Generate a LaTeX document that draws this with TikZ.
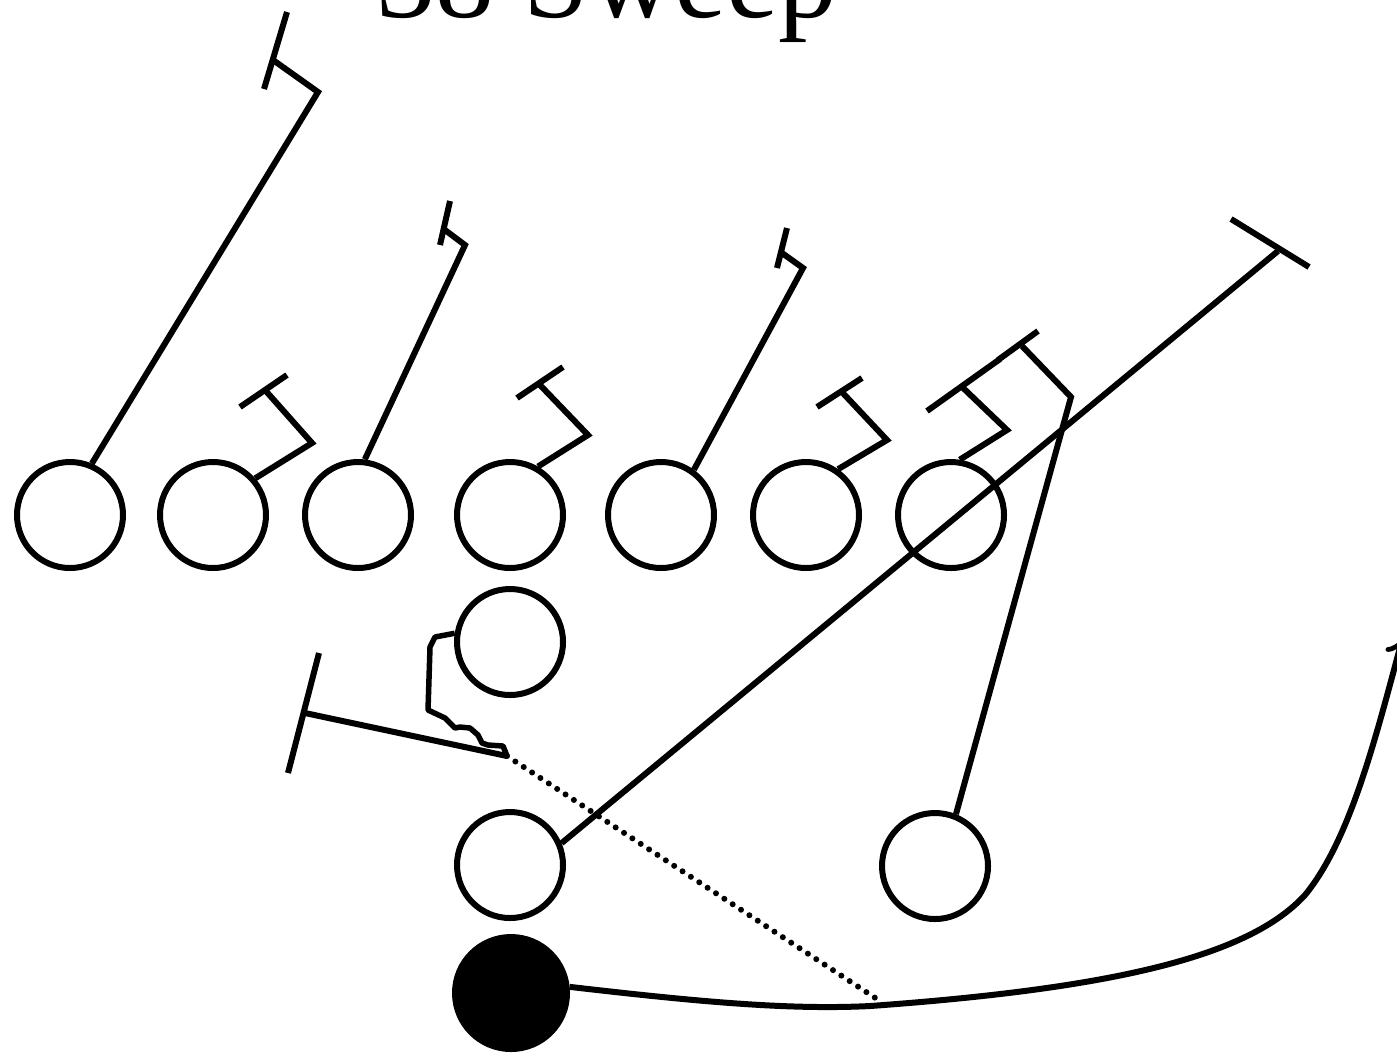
\documentclass[tikz,border=0pt]{standalone}
\usepackage{fontspec}
\setmainfont{Liberation Serif}
\usetikzlibrary{positioning}

\begin{document}
\begin{tikzpicture}[
        x=0.1mm, y=-0.1mm,
        player/.style={draw, circle, line width=0.6mm, minimum size=10.6mm, inner sep=0pt},
        carrier/.style={draw, fill=black, circle, line width=0.6mm, minimum size=11.2mm, inner sep=0pt},
        route/.style={line width=0.6mm, line join=miter},
        pitch/.style={line width=0.6mm, dash pattern=on 0pt off 1mm, line cap=round}
    ]
        \useasboundingbox (0,0) rectangle (1397,1055);

        \node[anchor=base west, inner sep=0pt, font=\fontsize{33.5pt}{36pt}\selectfont] (title) at (376,17) {38 Sweep};

        % the line
        \node[player] (le) at (70,515) {};
        \node[player] (lt) at (213,515) {};
        \node[player] (lg) at (358,515) {};
        \node[player] (c) at (510,515) {};
        \node[player] (rg) at (661,515) {};
        \node[player] (rt) at (806,515) {};
        \node[player] (te) at (951,515) {};

        % backs
        \node[player] (qb) at (510,642) {};
        \node[player] (fb) at (510,865) {};
        \node[player] (hb) at (935,866) {};
        \node[carrier] (tb) at (511,993) {};

        \coordinate (qbturn) at (507,756);
        \coordinate (pitchend) at (880,1001);

        % blocks
        \draw[route] (le.67) -- (318,92) -- (273,60);
        \draw[route] (287,12) -- (264,89);
        \draw[route] (lt.41) -- (312,443) -- (265,390);
        \draw[route] (240,407) -- (287,375);
        \draw[route] (lg.83) -- (465,245) -- (445,230);
        \draw[route] (450,201) -- (440,245);
        \draw[route] (c.60) -- (588,435) -- (540,385);
        \draw[route] (517,398) -- (563,367);
        \draw[route] (rg.54) -- (803,268) -- (782,253);
        \draw[route] (787,228) -- (777,268);
        \draw[route] (rt.55) -- (887,440) -- (840,390);
        \draw[route] (817,407) -- (862,378);
        \draw[route] (te.81) -- (1007,430) -- (960,385);
        \draw[route] (927,411) -- (1000,359);
        \draw[route] (hb.68) -- (1071,397) -- (1022,346);
        \draw[route] (998,360) -- (1038,331);
        \draw[route] (fb.23) -- (1278,251);
        \draw[route] (1231,219) -- (1309,267);

        % quarterback: reverse pivot, pitch, then block
        \draw[line width=0.55mm, line join=round] (qb.171) -- (435,637) -- (430,647) -- (428,710) -- (445,718) -- (455,728) -- (460,727) -- (470,728) -- (478,735) -- (482,743) -- (488,745) -- (503,746) -- (qbturn);
        \draw[route] (qbturn) -- (305,713);
        \draw[route] (319,653) -- (288,773);
        \draw[pitch] (qbturn) -- (pitchend);

        % ball carrier
        \draw[route, ->] (tb.6) .. controls (700,1002) and (790,1010) .. (870,1006)
            .. controls (1120,988) and (1250,955) .. (1305,895)
            .. controls (1350,840) and (1375,740) .. (1402,640);

    \end{tikzpicture}
\end{document}
